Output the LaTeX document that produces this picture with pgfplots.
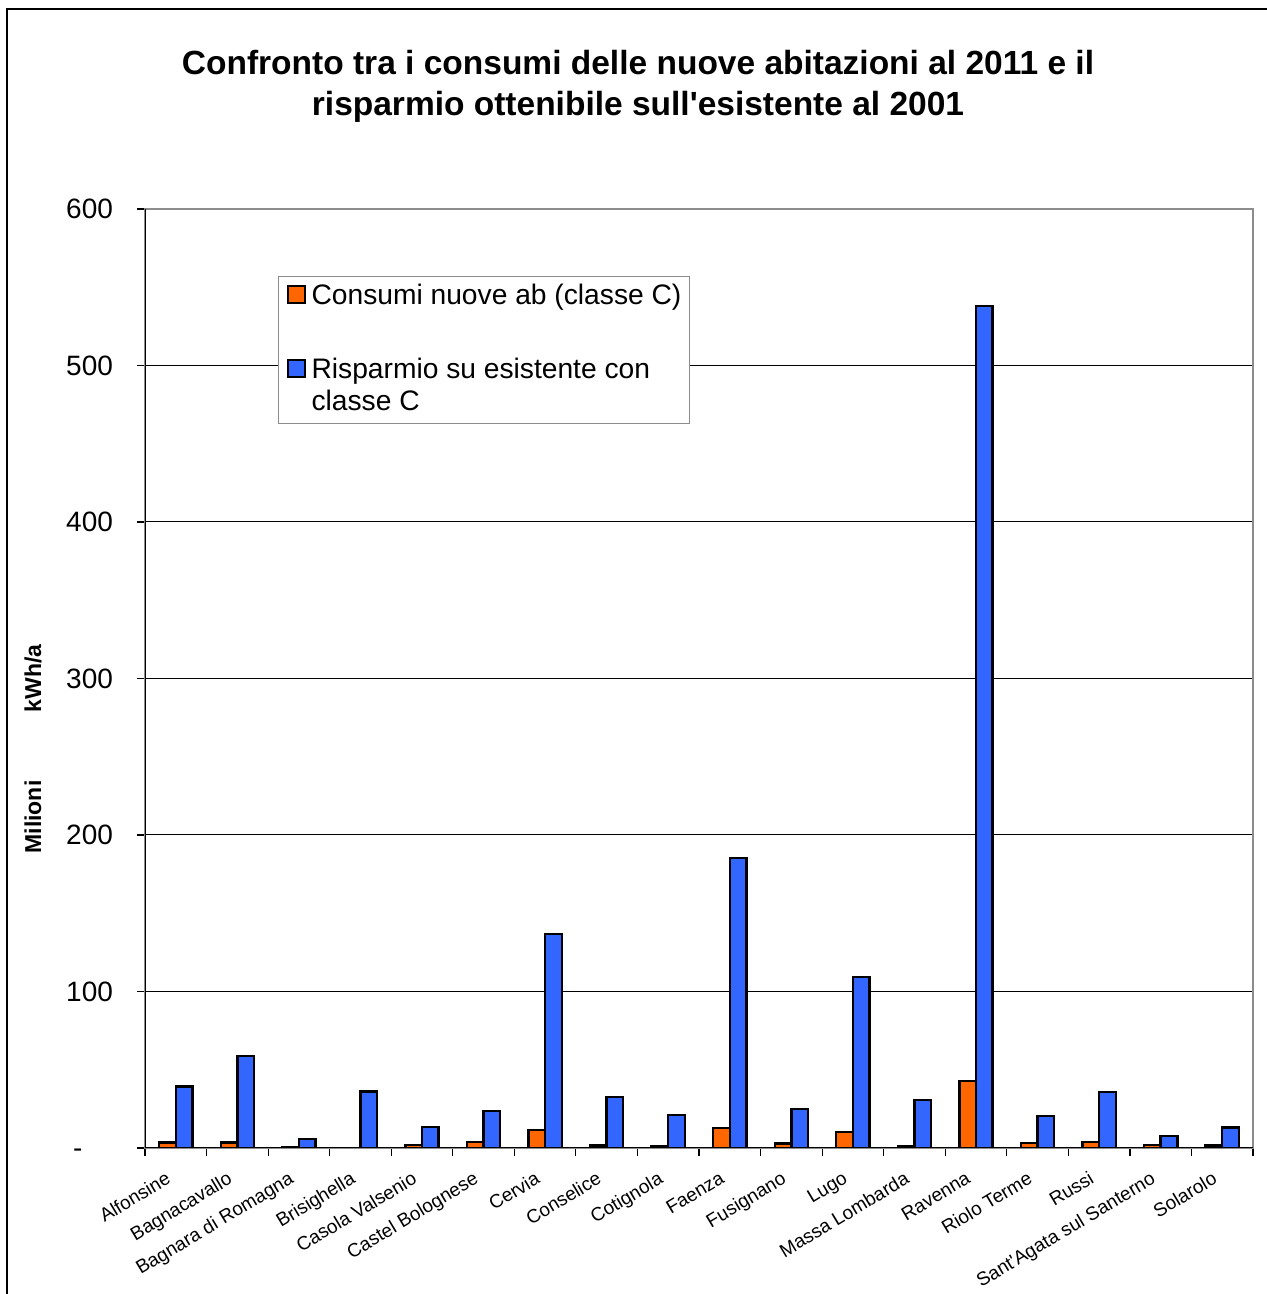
\documentclass[border=0pt]{standalone}
\usepackage{fontspec}
\setmainfont{Liberation Sans}[Ligatures=TeXOff]
\usepackage{pgfplots}
\pgfplotsset{compat=1.18}
\definecolor{barorange}{HTML}{FF6600}
\definecolor{barblue}{HTML}{3366FF}
\definecolor{frameg}{HTML}{8C8C8C}

\pgfplotstableread{
x orange blue
0  3.4  39.2
1  3.4  58.8
2  0.6  5.9
3  0.0  36.0
4  2.1  13.6
5  4.0  23.6
6  11.5 136.7
7  1.5  32.6
8  1.1  20.9
9  12.6 185.3
10 2.8  25.1
11 10.4 109.3
12 1.3  30.7
13 42.8 538.0
14 3.2  20.4
15 4.0  35.6
16 1.9  7.5
17 1.5  13.2
}\datatable

\begin{document}
\begin{tikzpicture}
\useasboundingbox (0,0) rectangle (633.5pt,647pt);
\draw[black, line width=1pt] (3.5pt,-10pt) rectangle (645pt,642.5pt);
\node[font=\bfseries\fontsize{16.75}{20.5}\selectfont, align=center] at (319pt,603.75pt)
  {Confronto tra i consumi delle nuove abitazioni al 2011 e il\\risparmio ottenibile sull'esistente al 2001};
\node[font=\bfseries\fontsize{11.5}{13}\selectfont, rotate=90] at (16.5pt,307.75pt) {kWh/a};
\node[font=\bfseries\fontsize{11.5}{13}\selectfont, rotate=90] at (16.5pt,238.5pt) {Milioni};
\begin{axis}[
  at={(72.5pt,73pt)}, anchor=south west,
  width=554pt, height=469.5pt, scale only axis,
  xmin=-0.5, xmax=17.5, ymin=0, ymax=600,
  xtick={-0.5,0.5,...,17.5},
  xticklabels={Alfonsine,Bagnacavallo,Bagnara di Romagna,Brisighella,Casola Valsenio,Castel Bolognese,Cervia,Conselice,Cotignola,Faenza,Fusignano,Lugo,Massa Lombarda,Ravenna,Riolo Terme,Russi,Sant'Agata sul Santerno,Solarolo,{}},
  ytick={0,100,...,600},
  yticklabels={{\rlap{\hspace{3.5pt}-}\phantom{600}},100,200,300,400,500,600},
  tick pos=left,
  tick align=outside, major tick length=4pt,
  ymajorgrids, major grid style={black, line width=0.5pt},
  axis line style={draw=frameg, line width=1.3pt},
  tick style={black, line width=0.6pt},
  yticklabel style={font=\fontsize{14}{16}\selectfont, xshift=-8.5pt},
  xticklabel style={font=\fontsize{9.5}{11}\selectfont, xshift=11pt, yshift=-2.5pt, rotate=31, anchor=north east},
  legend style={at={(0.12,0.9286)}, anchor=north west, draw=frameg, line width=0.6pt, fill=white,
    inner xsep=4pt, inner ysep=2.75pt, row sep=1pt, column sep=3pt,
    cells={anchor=west},
    nodes={inner sep=0pt, text height=11pt, text depth=4pt, font=\fontsize{14.1}{16}\selectfont}},
  legend cell align=left,
]
\addlegendimage{legend image code/.code={\draw[fill=barorange, draw=black, line width=1pt] (0pt,-2.75pt) rectangle (8.5pt,5.75pt);}}
\addlegendentry{Consumi nuove ab (classe C)\hspace{2.5pt}}
\addlegendimage{legend image code/.code={\path[draw=none, fill=none] (0pt,-10pt) rectangle (0.1pt,10pt);}}
\addlegendentry{}
\addlegendimage{legend image code/.code={\draw[fill=barblue, draw=black, line width=1pt] (0pt,-2.75pt) rectangle (8.5pt,5.75pt);}}
\addlegendentry{Risparmio su esistente con}
\addlegendimage{legend image code/.code={}}
\addlegendentry{classe C}

\addplot[ybar, bar width=0.27, bar shift=-0.135, fill=barorange, draw=black, line width=1.2pt, forget plot] table[x=x, y=orange] {\datatable};
\addplot[ybar, bar width=0.27, bar shift=0.135, fill=barblue, draw=black, line width=1.2pt, forget plot] table[x=x, y=blue] {\datatable};
\draw[black, line width=1.2pt] (rel axis cs:0,1) -- (rel axis cs:0,0) -- (rel axis cs:1,0);
\end{axis}
\end{tikzpicture}
\end{document}
